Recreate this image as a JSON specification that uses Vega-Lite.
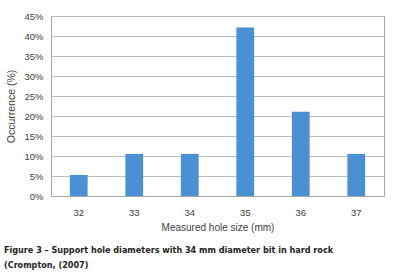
{
  "$schema": "https://vega.github.io/schema/vega-lite/v6.json",
  "autosize": "none",
  "width": 333,
  "height": 180,
  "padding": {"left": 51, "top": 16, "right": 9, "bottom": 81},
  "background": "white",
  "data": {"values": [
    {"size": "32", "occ": 0.0526},
    {"size": "33", "occ": 0.1053},
    {"size": "34", "occ": 0.1053},
    {"size": "35", "occ": 0.4211},
    {"size": "36", "occ": 0.2105},
    {"size": "37", "occ": 0.1053}
  ]},
  "title": {
    "text": ["Figure 3 – Support hole diameters with 34 mm diameter bit in hard rock", "(Crompton, (2007)"],
    "orient": "bottom",
    "anchor": "start",
    "frame": "bounds",
    "offset": 13,
    "dx": -3,
    "font": "DejaVu Sans Condensed, Liberation Sans, sans-serif",
    "fontSize": 9,
    "fontWeight": "bold",
    "color": "#222222",
    "lineHeight": 15
  },
  "mark": {"type": "bar", "color": "#4a90d4"},
  "encoding": {
    "x": {
      "field": "size", "type": "nominal",
      "scale": {"paddingInner": 0.68, "paddingOuter": 0.34},
      "axis": {
        "title": "Measured hole size (mm)",
        "labelAngle": 0,
        "ticks": false,
        "domainColor": "#a6a6a6",
        "labelPadding": 11,
        "titlePadding": 6,
        "labelFont": "Liberation Sans",
        "titleFont": "Liberation Sans",
        "labelFontSize": 9.5,
        "titleFontSize": 10,
        "titleFontWeight": "normal",
        "labelColor": "#404040",
        "titleColor": "#404040"
      }
    },
    "y": {
      "field": "occ", "type": "quantitative",
      "scale": {"domain": [0, 0.45]},
      "axis": {
        "title": "Occurrence (%)",
        "format": ".0%",
        "values": [0, 0.05, 0.1, 0.15, 0.2, 0.25, 0.3, 0.35, 0.4, 0.45],
        "ticks": false,
        "domain": false,
        "gridColor": "#bfbfbf",
        "labelPadding": 8,
        "titlePadding": 7,
        "labelFont": "Liberation Sans",
        "titleFont": "Liberation Sans",
        "labelFontSize": 9.5,
        "titleFontSize": 10.5,
        "titleFontWeight": "normal",
        "labelColor": "#404040",
        "titleColor": "#404040"
      }
    }
  },
  "config": {"view": {"stroke": "#a6a6a6"}}
}
